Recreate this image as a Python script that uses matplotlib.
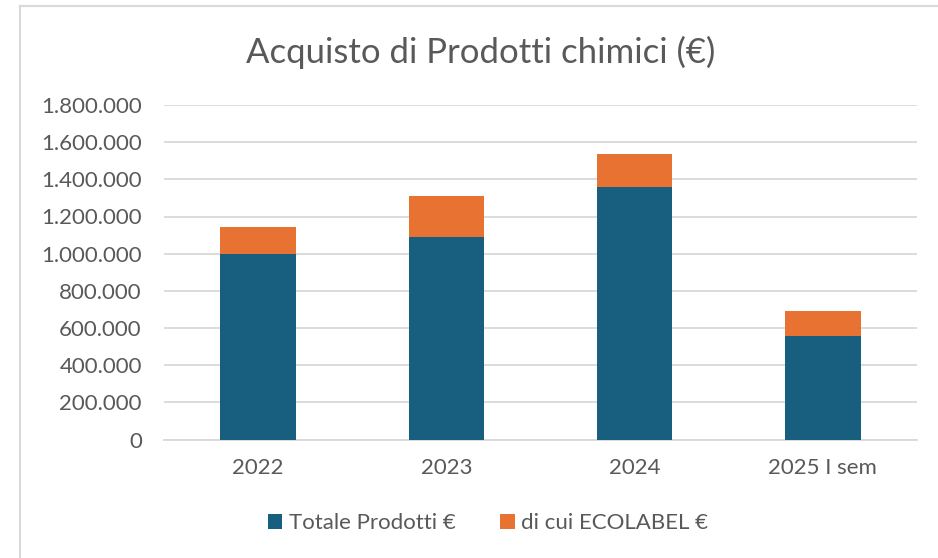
import matplotlib.pyplot as plt
from matplotlib.lines import Line2D
from matplotlib.ticker import FuncFormatter

categories = ["2022", "2023", "2024", "2025 I sem"]
totale = [1000000, 1092000, 1357000, 557000]
ecolabel = [146000, 216000, 178000, 135000]

blue = "#175E7F"
orange = "#E87232"
text_col = "#595959"
grid_col = "#D9D9D9"

plt.rcParams["font.family"] = ["Lato", "DejaVu Sans"]

W, H = 938, 558
fig = plt.figure(figsize=(W / 100, H / 100), dpi=100)
ax = fig.add_axes([164 / W, (H - 439.5) / H, 753 / W, 334.5 / H])

x = range(len(categories))
ax.bar(x, totale, width=0.4, color=blue, label="Totale Prodotti €", zorder=3)
ax.bar(x, ecolabel, width=0.4, bottom=totale, color=orange,
       label="di cui ECOLABEL €", zorder=3)

ax.set_xlim(-0.5, len(categories) - 0.5)
ax.set_ylim(0, 1800000)
ax.set_yticks(range(0, 1800001, 200000))
ax.yaxis.set_major_formatter(
    FuncFormatter(lambda v, p: f"{int(v):,}".replace(",", "."))
)
ax.set_xticks(list(x))
ax.set_xticklabels(categories)
ax.grid(axis="y", color=grid_col, linewidth=1.3, zorder=0)
ax.tick_params(axis="y", length=0, pad=16, labelsize=16, labelcolor=text_col)
ax.tick_params(axis="x", length=0, pad=13, labelsize=16, labelcolor=text_col)
for s in ["top", "right", "left"]:
    ax.spines[s].set_visible(False)
ax.spines["bottom"].set_color(grid_col)
ax.spines["bottom"].set_linewidth(1.3)

fig.text(481 / W, 1 - 52 / H, "Acquisto di Prodotti chimici (€)",
         ha="center", va="center", fontsize=25, color=text_col)

fig.legend(loc="center", bbox_to_anchor=(488 / W, 1 - 523 / H), ncol=2,
           frameon=False, fontsize=16, labelcolor=text_col,
           handlelength=0.65, handleheight=0.65, handletextpad=0.3,
           columnspacing=2.0)

# outer chart border
fig.add_artist(Line2D([20 / W, 20 / W], [0, 1 - 6 / H], transform=fig.transFigure,
                      color=grid_col, linewidth=1.5))
fig.add_artist(Line2D([20 / W, 1], [1 - 6 / H, 1 - 6 / H], transform=fig.transFigure,
                      color=grid_col, linewidth=1.5))

fig.savefig("out.png", dpi=100)
